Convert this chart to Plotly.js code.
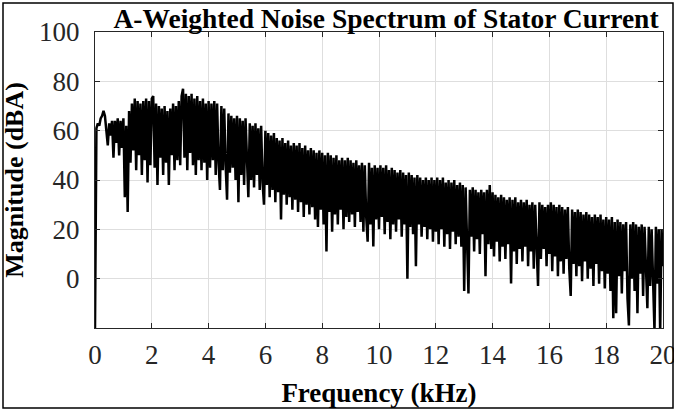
<!DOCTYPE html>
<html>
<head>
<meta charset="utf-8">
<script src="https://cdn.plot.ly/plotly-3.0.1.min.js"></script>
<style>
  html, body { margin: 0; padding: 0; background: #ffffff; }
  #chart { width: 674px; height: 410px; }
</style>
</head>
<body>
<div id="chart"></div>
<script>
// Frequency bins: start and spacing in kHz (uniform FFT grid)
const freqStartKHz = 0;
const freqStepKHz = 0.05;

// Magnitude (dBA) per bin, one row per kHz
const mag0  = [-20, 61, 63, 62, 65, 66, 68, 66, 60, 54, 63, 58, 64, 49, 64, 55, 65, 50, 64, 53];
const mag1  = [65, 33, 62, 27, 68, 47, 71, 52, 73, 44, 72, 50, 71, 42, 72, 48, 73, 39, 72, 46];
const mag2  = [73, 74, 45, 71, 38, 70, 49, 69, 42, 70, 47, 68, 38, 69, 50, 71, 44, 70, 48, 72];
const mag3  = [46, 74, 77, 49, 75, 44, 74, 51, 75, 46, 73, 42, 74, 48, 72, 44, 73, 47, 71, 40];
const mag4  = [72, 45, 71, 48, 72, 42, 71, 47, 36, 70, 44, 69, 46, 32, 67, 43, 66, 45, 65, 40];
const mag5  = [66, 31, 65, 42, 64, 38, 65, 44, 33, 63, 40, 62, 37, 63, 42, 61, 36, 62, 39, 30];
const mag6  = [60, 38, 59, 33, 58, 36, 59, 31, 57, 35, 56, 24, 57, 34, 55, 30, 56, 33, 54, 28];
const mag7  = [55, 32, 54, 27, 55, 31, 53, 25, 54, 30, 52, 26, 53, 29, 52, 24, 51, 21, 52, 28];
const mag8  = [51, 22, 50, 11, 51, 27, 50, 19, 49, 26, 50, 22, 48, 28, 49, 20, 48, 25, 49, 23];
const mag9  = [48, 26, 47, 21, 48, 27, 46, 23, 47, 19, 46, 25, 15, 47, 22, 45, 13, 46, 24, 45];
const mag10 = [20, 46, 25, 45, 18, 46, 23, 44, 16, 45, 22, 44, 19, 43, 24, 44, 17, 43, 22, 42];
const mag11 = [0, 43, 21, 42, 18, 41, 5, 42, 22, 41, 17, 40, 21, 41, 16, 40, 20, 41, 15, 40];
const mag12 = [19, 41, 14, 40, 20, 41, 13, 39, 18, 40, 12, 39, 19, 40, 14, 38, 17, 39, 13, 38];
const mag13 = [-5, 37, 15, -6, 36, 17, 37, 11, 36, 16, 35, 10, 36, 18, 35, 1, 36, 14, 38, 12];
const mag14 = [35, 9, 34, 15, 33, 7, 34, 13, 33, 8, 32, 14, 33, -2, 32, 11, 33, 6, 31, 12];
const mag15 = [32, 7, 31, 13, 32, 5, 30, 11, 31, 4, 30, 10, -3, 31, 8, 30, 12, 29, 5, 30];
const mag16 = [10, 31, 3, 30, 9, 29, 1, 30, 7, 29, 2, 28, 8, 29, 4, -7, 28, 6, 27, 1];
const mag17 = [28, 5, 27, -1, 26, 7, 27, 0, 26, 4, 25, -3, 26, 6, 25, -2, 26, 3, 24, -4];
const mag18 = [25, 2, 24, -5, 25, -16, 23, -14, 24, 1, 23, -6, 22, 3, 23, -8, -19, 22, 0, 23];
const mag19 = [-5, 22, -14, 21, 2, 22, -7, 21, 1, -12, 21, -3, 20, 4, -21, 21, -2, 20, -22, 20];
const mag20 = [5];

const magnitude = [].concat(mag0, mag1, mag2, mag3, mag4, mag5, mag6, mag7, mag8, mag9,
  mag10, mag11, mag12, mag13, mag14, mag15, mag16, mag17, mag18, mag19, mag20);

const xTickVals = [0, 2, 4, 6, 8, 10, 12, 14, 16, 18, 20];
const yTickVals = [0, 20, 40, 60, 80, 100];

const titleText = 'A-Weighted Noise Spectrum of Stator Current';
const xTitleText = 'Frequency (kHz)';
const yTitleText = 'Magnitude (dBA)';

const serif = 'Liberation Serif, Times New Roman, serif';

const trace = {
  type: 'scatter',
  mode: 'lines',
  x0: freqStartKHz,
  dx: freqStepKHz,
  y: magnitude,
  line: { color: '#000000', width: 2.5 },
  hoverinfo: 'skip'
};

const L = 95, R = 11, T = 32, B = 82;
const W = 674, H = 410;
const pw = W - L - R, ph = H - T - B;

const layout = {
  width: W, height: H,
  margin: { l: L, r: R, t: T, b: B, pad: 0 },
  paper_bgcolor: '#ffffff',
  plot_bgcolor: '#ffffff',
  showlegend: false,
  title: {
    text: '<b>' + titleText + '</b>',
    font: { family: serif, size: 27.5, color: '#000000' },
    x: 0.5 + 7 / pw, xref: 'paper', xanchor: 'center',
    y: 1 - 18 / H, yref: 'container', yanchor: 'middle'
  },
  xaxis: {
    range: [0, 20],
    tickvals: xTickVals,
    ticktext: xTickVals.map(String),
    ticks: 'inside', ticklen: 5, tickwidth: 1, tickcolor: '#262626',
    showline: true, linecolor: '#262626', linewidth: 1, mirror: 'ticks',
    showgrid: true, gridcolor: '#dedede', gridwidth: 1,
    zeroline: false,
    tickfont: { family: serif, size: 27, color: '#262626' },
    ticklabelstandoff: 3,
    ticklabeloverflow: 'allow',
    title: { text: '<b>' + xTitleText + '</b>', font: { family: serif, size: 27, color: '#000000' }, standoff: 13 }
  },
  yaxis: {
    range: [-20, 100],
    tickvals: yTickVals,
    ticktext: yTickVals.map(String),
    ticks: 'inside', ticklen: 5, tickwidth: 1, tickcolor: '#262626',
    showline: true, linecolor: '#262626', linewidth: 1, mirror: 'ticks',
    showgrid: true, gridcolor: '#dedede', gridwidth: 1,
    zeroline: false,
    tickfont: { family: serif, size: 27, color: '#262626' },
    ticklabelstandoff: 9,
    ticklabeloverflow: 'allow',
    title: { text: '<b>' + yTitleText + '</b>', font: { family: serif, size: 26, color: '#000000' }, standoff: 7 }
  },
  shapes: [{
    type: 'rect', xref: 'paper', yref: 'paper', layer: 'above',
    x0: (3 - L) / pw, x1: (673 - L) / pw,
    y0: (H - B - 408) / ph, y1: (H - B - 3) / ph,
    line: { color: '#000000', width: 1.5 }, fillcolor: 'rgba(0,0,0,0)'
  }]
};

Plotly.newPlot('chart', [trace], layout, { displayModeBar: false, staticPlot: true });
</script>
</body>
</html>
